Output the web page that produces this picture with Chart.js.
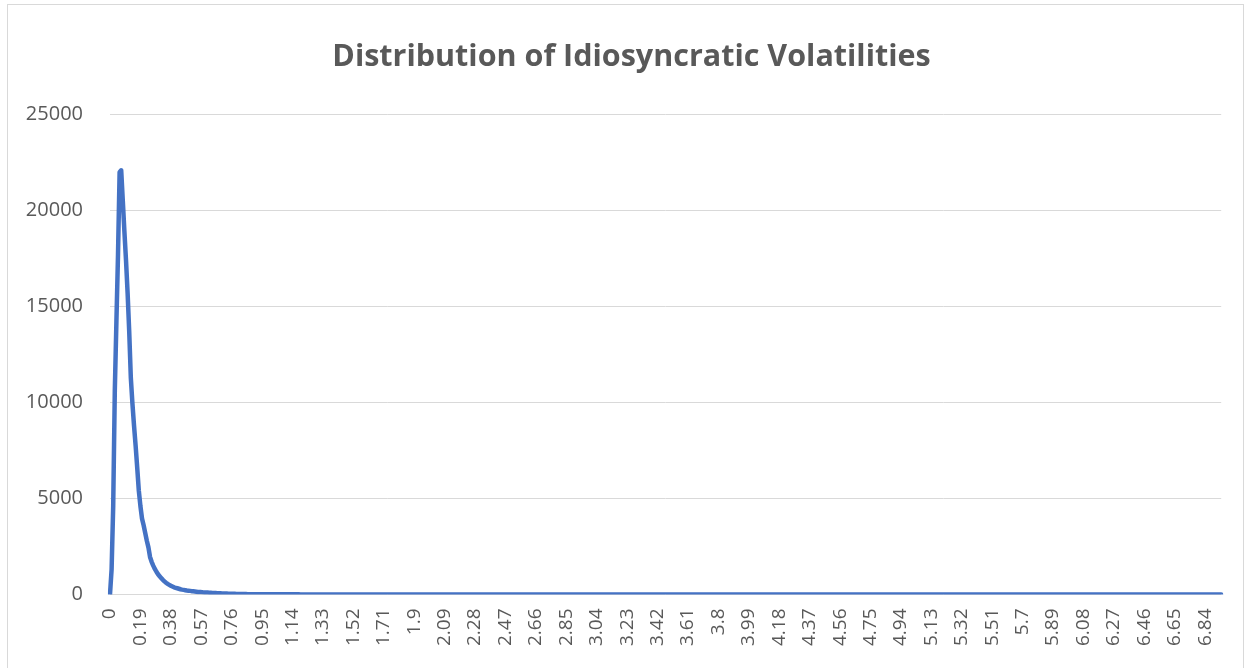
<!DOCTYPE html>
<html lang="en">
<head>
    <meta charset="UTF-8">
    <title>Distribution of Idiosyncratic Volatilities</title>
    <script src="https://cdn.jsdelivr.net/npm/chart.js"></script>
    <style>
        html, body {
            margin: 0;
            padding: 0;
            background-color: #ffffff;
        }
        .frame {
            position: absolute;
            left: 7px;
            top: 4px;
            width: 1237px;
            height: 700px;
            border: 1px solid #d9d9d9;
            box-sizing: border-box;
        }
        .wrap {
            position: absolute;
            left: 0;
            top: 0;
            width: 1250px;
            height: 668px;
        }
    </style>
</head>
<body>
    <div class="frame"></div>
    <div class="wrap"><canvas id="volChart"></canvas></div>

    <script>
        const chartTitle = 'Distribution of Idiosyncratic Volatilities';

        // counts per volatility bin (bin width 0.01)
        const headCounts = [
            0, 1300, 4600, 10600, 14200, 17700, 22000, 22100, 20500, 18900,
            17400, 15700, 13700, 11300, 9950, 8800, 7750, 6600, 5400, 4600,
            3950, 3600, 3200, 2800, 2450, 1950, 1700, 1500, 1330, 1180,
            1050, 950, 850, 760, 680, 610, 550, 500, 450, 410,
            370, 345, 320, 295, 270, 250, 235, 220, 205, 195,
            185, 170, 160, 150, 140, 130, 125, 120, 110, 105,
            100, 95, 90, 85, 80, 75, 70, 65, 60, 55,
            50, 48, 45, 42, 40, 38, 35, 32, 30, 28,
            26, 24, 22, 20, 18, 16, 15, 14, 13, 12,
            11, 10, 10, 9, 9, 8, 8, 7, 7, 6
        ];
        const tailCounts = [
            6,6,5,5,5, 5,4,4,4,4, 4,3,3,3,3, 3,3,3,3,2, 2,2,2,2,2, 2,2,2,2,2, 2,2,2,2,2,
            2,2,2,2,2, 2,2,2,2,2, 1,1,1,1,1, 1,1,1,1,1, 1,1,1,1,1, 1,1,1,1,1, 1,1,1,1,1,
            1,1,1,1,1, 1,1,1,1,1, 1,1,1,1,1, 1,1,1,1,1, 1,1,1,1,1, 1,1,1,1,1, 1,1,1,1,1,
            1,1,1,1,0, 1,1,1,0,1, 1,1,0,1,1, 1,0,1,1,0, 1,1,0,1,1, 0,1,1,0,1, 1,0,1,1,0,
            1,0,1,1,0, 1,0,1,0,1, 1,0,1,0,1, 0,1,0,1,0, 1,0,1,0,0, 1,0,1,0,1, 0,0,1,0,1,
            0,1,0,0,1, 0,0,1,0,1, 0,0,1,0,0, 1,0,0,1,0, 0,1,0,0,0, 1,0,0,1,0, 0,0,1,0,0,
            1,0,0,0,1, 0,0,0,1,0, 0,0,0,1,0, 0,1,0,0,0, 0,1,0,0,0, 1,0,0,0,0, 1,0,0,0,0,
            0,1,0,0,0, 0,0,1,0,0, 0,0,0,1,0, 0,0,0,0,1, 0,0,0,0,0, 1,0,0,0,0, 0,0,1,0,0,
            0,0,0,0,1, 0,0,0,0,0, 0,1,0,0,0, 0,0,0,0,0, 1,0,0,0,0, 0,0,0,1,0, 0,0,0,0,0,
            0,0,1,0,0, 0,0,0,0,0, 0,0,0,1,0, 0,0,0,0,0, 0,0,0,0,1, 0,0,0,0,0, 0,0,0,0,0,
            0,1,0,0,0, 0,0,0,0,0, 0,0,0,0,0, 1,0,0,0,0, 0,0,0,0,0, 0,0,0,0,0, 0,1,0,0,0,
            0,0,0,0,0, 0,0,0,0,0, 0,0,0,0,0, 0,0,1,0,0, 0,0,0,0,0, 0,0,0,0,0, 0,0,0,0,0,
            0,0,0,0,0, 1,0,0,0,0, 0,0,0,0,0, 0,0,0,0,0, 0,0,0,0,0, 0,0,0,1,0, 0,0,0,0,0,
            0,0,0,0,0, 0,0,0,0,0, 0,0,0,0,0, 0,0,0,0,0, 0,0,0,0,1, 0,0,0,0,0, 0,0,0,0,0,
            0,0,0,0,0, 0,0,0,0,0, 0,0,0,0,0, 0,0,0,0,0, 0,0,0,0,0, 0,0,0,0,0, 0,0,0,0,0,
            0,0,0,0,0, 0,0,0,0,0, 0,0,0,1,0, 0,0,0,0,0, 0,0,0,0,0, 0,0,0,0,0, 0,0,0,0,0,
            0,0,0,0,0, 0,0,0,0,0, 0,0,0,0,0, 0,0,0,0,0, 0,0,0,0,0, 0,0,0,0,0, 0,0,0,0,0
        ];
        const counts = headCounts.concat(tailCounts);

        // bin labels 0, 0.01, 0.02 ... (Excel drops trailing zeros: 1.9, 5.7)
        const volLabels = counts.map((c, i) => String(Number((i / 100).toFixed(2))));
        const labelStep = 19; // only every 19th bin gets a label

        const ctx = document.getElementById('volChart').getContext('2d');
        const textGrey = '#595959';

        new Chart(ctx, {
            type: 'line',
            data: {
                labels: volLabels,
                datasets: [{
                    data: counts,
                    borderColor: '#4472c4',
                    borderWidth: 4.5,
                    pointRadius: 0,
                    tension: 0,
                    borderJoinStyle: 'round',
                    borderCapStyle: 'round',
                    fill: false
                }]
            },
            options: {
                responsive: true,
                maintainAspectRatio: false,
                animation: false,
                layout: {
                    // negative right padding only moves the title's centre;
                    // the x axis keeps its own room on the right
                    padding: { left: 3, right: -10, top: 0, bottom: 16 }
                },
                plugins: {
                    legend: { display: false },
                    tooltip: { enabled: false },
                    title: {
                        display: true,
                        text: chartTitle,
                        color: textGrey,
                        font: { family: 'Open Sans', size: 30.5, weight: 'bold' },
                        padding: { top: 39, bottom: 39 }
                    }
                },
                scales: {
                    x: {
                        offset: false,
                        // tick marks hidden, but their length keeps the label gap
                        grid: { display: false, drawTicks: true, tickLength: 8 },
                        border: { display: false },
                        ticks: {
                            autoSkip: false,
                            minRotation: 90,
                            maxRotation: 90,
                            padding: 6,
                            color: textGrey,
                            font: { family: 'Open Sans', size: 19 },
                            callback: function (value, index) {
                                return index % labelStep === 0 ? volLabels[index] : '';
                            }
                        }
                    },
                    y: {
                        min: 0,
                        max: 25000,
                        grid: { color: '#d9d9d9', drawTicks: false },
                        border: { display: false },
                        afterFit: function (scale) {
                            scale.width = 107;
                        },
                        ticks: {
                            stepSize: 5000,
                            padding: 27,
                            color: textGrey,
                            font: { family: 'Open Sans', size: 20 },
                            callback: function (value) {
                                return String(value);
                            }
                        }
                    }
                }
            }
        });
    </script>
</body>
</html>
